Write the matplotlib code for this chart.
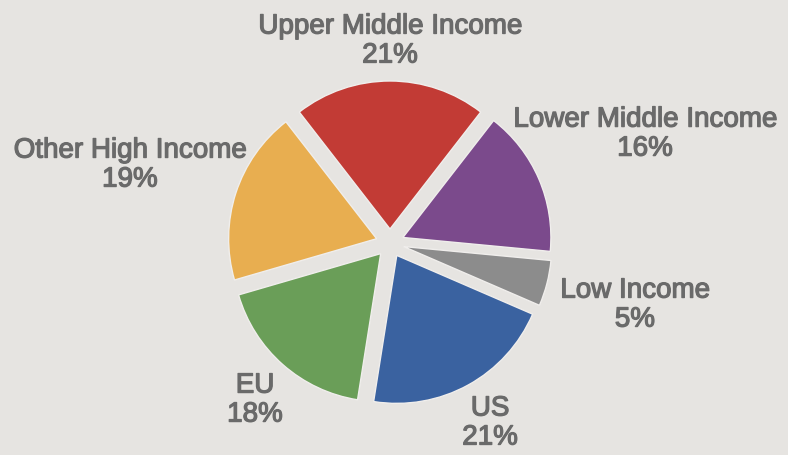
import matplotlib
matplotlib.use("Agg")
import matplotlib.pyplot as plt
import matplotlib.patheffects as pe

# income group shares, clockwise from the top
groups = ["Upper Middle Income", "Lower Middle Income", "Low Income",
          "US", "EU", "Other High Income"]
shares = [21, 16, 5, 21, 18, 19]
colors = ["#c23b35", "#7b4a8c", "#8c8c8c", "#3a62a0", "#6a9e58", "#e8ae50"]

# label centres (data units, pie radius = 1)
label_pos = [(0.0, 1.365), (1.723, 0.736), (1.655, -0.419),
             (0.676, -1.216), (-0.912, -1.061), (-1.757, 0.527)]

bg = "#e6e4e1"
plt.rcParams["font.family"] = ["Liberation Sans", "DejaVu Sans"]

fig = plt.figure(figsize=(7.88, 4.56), dpi=100, facecolor=bg)
ax = fig.add_axes([0, 0, 1, 1])
ax.set_facecolor(bg)

start = 90 + shares[0] / sum(shares) * 360 / 2
ax.pie(shares, colors=colors, explode=[0.095] * len(shares),
       startangle=start, counterclock=False,
       wedgeprops=dict(edgecolor="#f0eeec", linewidth=1))

# slightly heavier strokes on the labels
heavy = [pe.withStroke(linewidth=0.9, foreground="#6a6a6a")]
for name, val, (x, y) in zip(groups, shares, label_pos):
    ax.text(x, y, f"{name}\n{val}%", ha="center", va="center",
            fontsize=20, color="#6a6a6a", linespacing=1.15,
            path_effects=heavy)

ax.set_xlim(-2.635, 2.689)
ax.set_ylim(-1.432, 1.649)
ax.set_aspect("auto")
ax.axis("off")

fig.savefig("out.png", dpi=100, facecolor=bg)
